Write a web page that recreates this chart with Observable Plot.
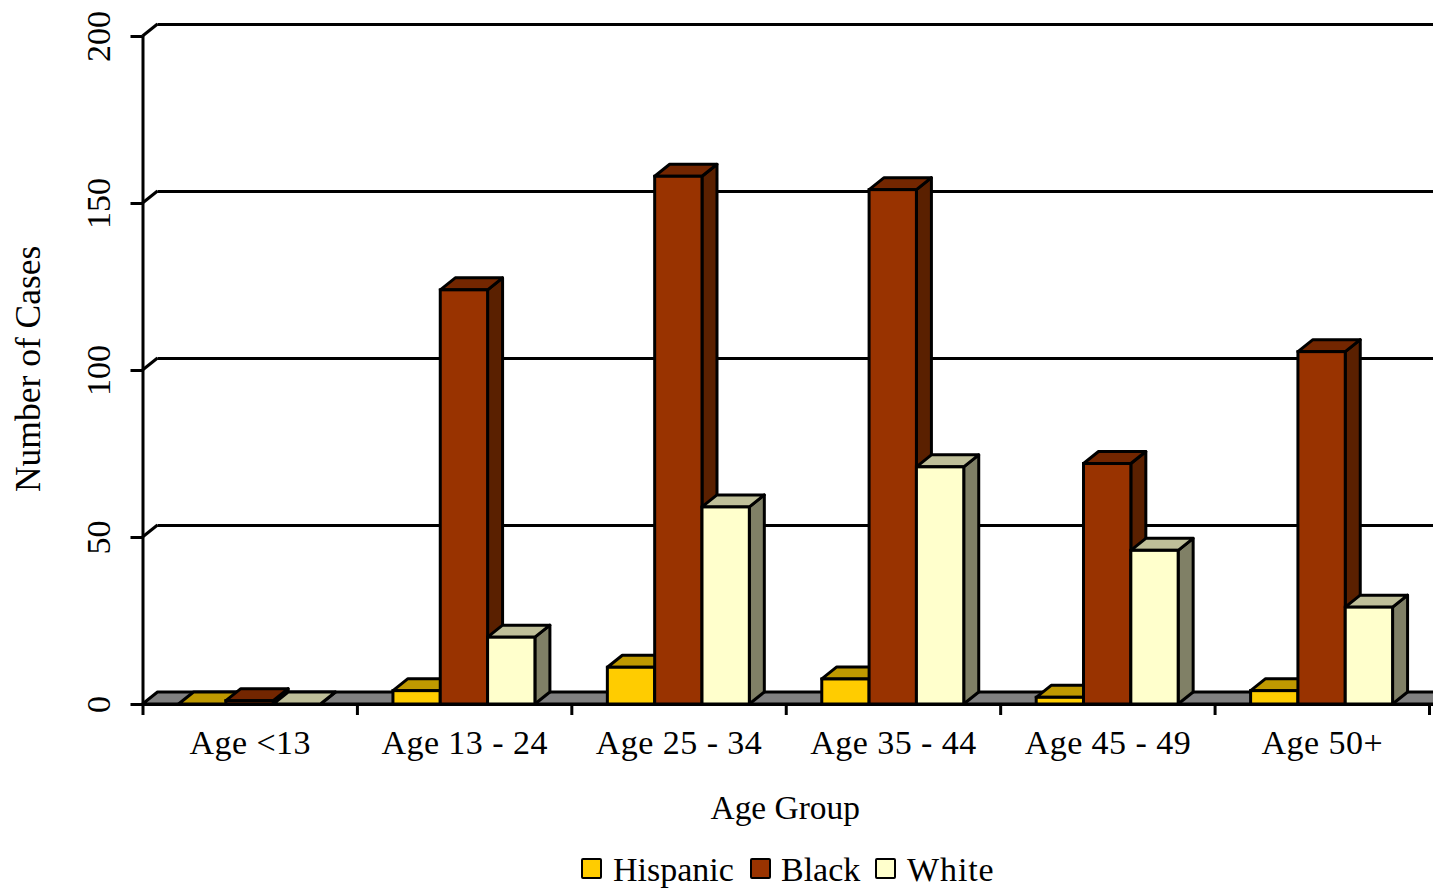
<!DOCTYPE html>
<html>
<head>
<meta charset="utf-8">
<script src="https://cdn.jsdelivr.net/npm/d3@7"></script>
<script src="https://cdn.jsdelivr.net/npm/@observablehq/plot@0.6"></script>
<style>
  html, body { margin: 0; padding: 0; background: #fff; overflow: hidden; }
  #legend { position: relative; height: 38px; font: 34px "Liberation Serif", serif; color: #000; }
  #legend span { position: absolute; white-space: nowrap; line-height: 38px; top: 1px; }
  #legend span.wide { letter-spacing: 0.9px; }
  #legend i { position: absolute; top: 8px; width: 17px; height: 17px; border: 2.8px solid #000; border-radius: 2px; }
  .spaced text { letter-spacing: 0.45px; }
</style>
</head>
<body>
<div id="chart"></div>
<div id="legend"></div>
<script>
const ageGroups = ["Age <13", "Age 13 - 24", "Age 25 - 34", "Age 35 - 44", "Age 45 - 49", "Age 50+"];
const hispanic = [0, 4, 11, 7.5, 2, 4];
const black = [1, 124, 158, 154, 72, 105.5];
const white = [0, 20, 59, 71, 46, 29];
const seriesNames = ["Hispanic", "Black", "White"];
const seriesValues = [hispanic, black, white];
const frontColors = ["#FFCC00", "#993300", "#FFFFCC"];
const topColors = ["#BF9900", "#732600", "#BFBF99"];
const sideColors = ["#806600", "#5A2000", "#808066"];
const yTicks = [0, 50, 100, 150, 200];
const xTicks = [0, 1, 2, 3, 4, 5, 6];
const legendX = [[581, 613], [750, 781], [875, 907]];

const depthX = 15, depthY = -12, sw = 3;
const groupPad = 0.168, barW = 0.2207;

const polygon = (g, pts, fill) => g.append("polygon")
  .attr("points", pts.map(p => p.join(",")).join(" "))
  .attr("fill", fill).attr("stroke", "#000").attr("stroke-width", sw).attr("stroke-linejoin", "round");

// top and side faces of a box, drawn from the positions the x and y scales give
function depthFaces(data, topFill, sideFill) {
  return Plot.rect(data, {
    x1: "x1", x2: "x2", y1: "y1", y2: "y2",
    render(index, scales, v) {
      const g = d3.create("svg:g");
      for (const i of index) {
        const [l, r, b, t] = [v.x1[i], v.x2[i], v.y1[i], v.y2[i]];
        if (sideFill) polygon(g, [[r, t], [r + depthX, t + depthY], [r + depthX, b + depthY], [r, b]], sideFill);
        polygon(g, [[l, t], [l + depthX, t + depthY], [r + depthX, t + depthY], [r, t]], topFill);
      }
      return g.node();
    }
  });
}

const bars = seriesNames.map((name, s) => ageGroups.map((group, i) => ({
  name, group,
  x1: i + groupPad + s * barW,
  x2: i + groupPad + (s + 1) * barW,
  y1: 0,
  y2: seriesValues[s][i]
})));

const plot = Plot.plot({
  width: 1433, height: 850,
  marginLeft: 142.5, marginRight: 4, marginTop: 36, marginBottom: 146,
  style: { fontFamily: "Liberation Serif, serif", fontSize: "34px", color: "#000", background: "#fff", overflow: "hidden" },
  x: { domain: [0, 6] },
  y: { domain: [0, 200] },
  marks: [
    // back wall lines
    Plot.ruleY(yTicks.filter(d => d > 0), { x1: 0, x2: 6.1, dx: depthX, dy: depthY, stroke: "#000", strokeWidth: sw }),
    // connectors from axis to the back wall
    Plot.ruleY(yTicks.filter(d => d > 0), {
      x1: 0, x2: 0.07, stroke: "#000",
      render(index, scales, v) {
        const g = d3.create("svg:g");
        for (const i of index) {
          const y = v.y[i], x = scales.x(0);
          g.append("line").attr("x1", x).attr("y1", y).attr("x2", x + depthX).attr("y2", y + depthY)
            .attr("stroke", "#000").attr("stroke-width", sw);
        }
        return g.node();
      }
    }),
    // floor
    depthFaces([{ x1: 0, x2: 6.1, y1: 0, y2: 0 }], "#808080", null),
    // bars
    ...bars.flatMap((d, s) => [
      depthFaces(d, topColors[s], sideColors[s]),
      Plot.rect(d, { x1: "x1", x2: "x2", y1: "y1", y2: "y2", fill: frontColors[s], stroke: "#000", strokeWidth: sw })
    ]),
    // axes
    Plot.ruleX([0], { stroke: "#000", strokeWidth: sw }),
    Plot.ruleY([0], { x1: 0, x2: 6.1, stroke: "#000", strokeWidth: sw }),
    Plot.axisY({
      ticks: yTicks, tickSize: 12, tickPadding: 21, tickRotate: -90, label: null,
      textAnchor: "middle", stroke: "#000", strokeWidth: sw, fontSize: 34, tickFormat: d => d
    }),
    Plot.axisX({ ticks: xTicks, tickSize: 11, tickFormat: () => "", label: null, stroke: "#000", strokeWidth: sw }),
    Plot.text(ageGroups, {
      x: (d, i) => i + 0.5, y: 0, text: d => d, dy: 39, fontSize: 34, fill: "#000", className: "spaced"
    }),
    Plot.text(["Age Group"], { x: 2.995, y: 0, text: d => d, dy: 104, fontSize: 33.4, fill: "#000" }),
    Plot.text(["Number of Cases"], {
      x: 0, y: 100.5, text: d => d, dx: -114, dy: 0, rotate: -90, fontSize: 35.5, fill: "#000", lineAnchor: "middle"
    })
  ]
});
document.getElementById("chart").appendChild(plot);
plot.style.display = "block";

const legend = document.getElementById("legend");
seriesNames.forEach((name, s) => {
  const swatch = document.createElement("i");
  swatch.style.left = legendX[s][0] + "px";
  swatch.style.background = frontColors[s];
  const t = document.createElement("span");
  t.style.left = legendX[s][1] + "px";
  if (name === "White") t.className = "wide";
  t.textContent = name;
  legend.append(swatch, t);
});
</script>
</body>
</html>
